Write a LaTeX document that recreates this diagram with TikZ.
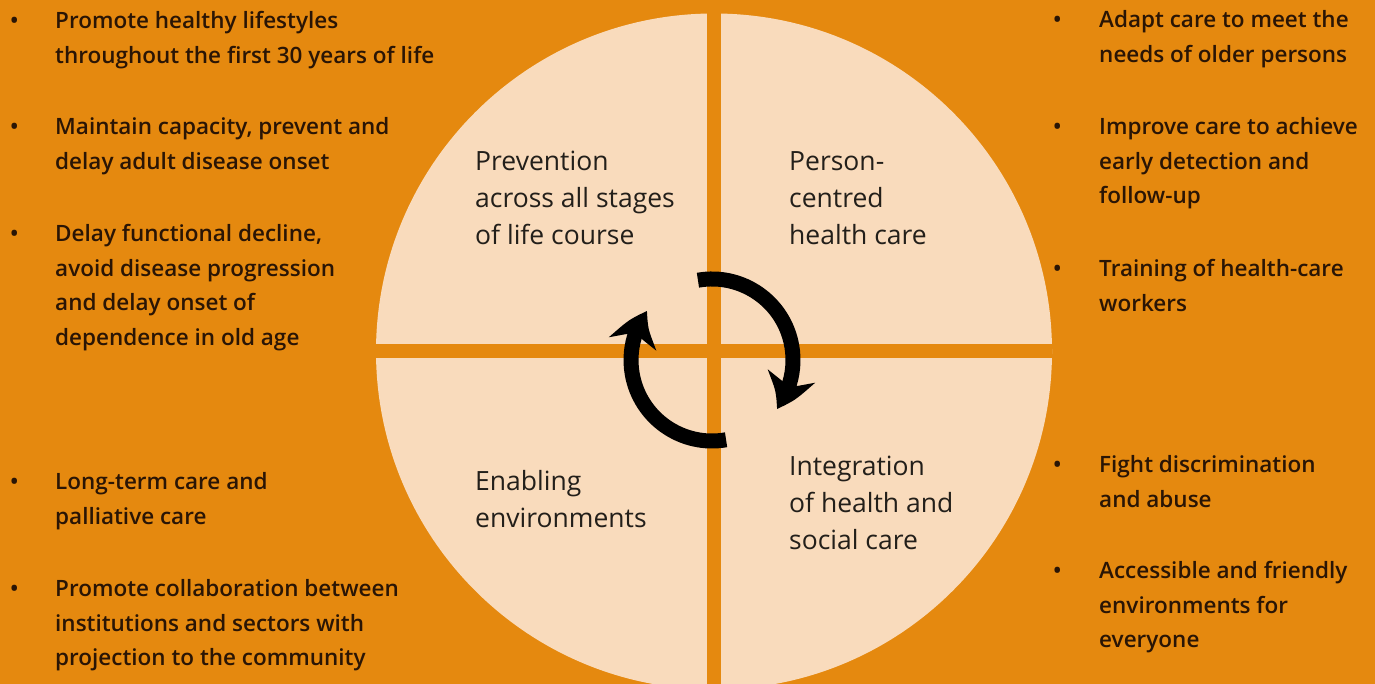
\documentclass[tikz,border=0pt]{standalone}
\usepackage{fontspec}
\setmainfont{Open Sans}
\IfFontExistsTF{Open Sans SemiBold}
  {\newfontfamily\itemfont{Open Sans SemiBold}\def\itemsize{22.5}}
  {\IfFontExistsTF{Open Sans Semibold}
    {\newfontfamily\itemfont{Open Sans Semibold}\def\itemsize{22.5}}
    {\def\itemfont{\bfseries}\def\itemsize{21.6}}}
\usetikzlibrary{positioning, arrows.meta, bending}
\definecolor{bgorange}{HTML}{E5890F}
\definecolor{wheelcream}{HTML}{F9DBBC}
\definecolor{itembrown}{HTML}{2A1505}
\definecolor{labelgrey}{HTML}{231F1A}

\begin{document}
\begin{tikzpicture}[x=1pt, y=1pt,
    itemtext/.style={anchor=base west, align=left, inner sep=0pt, text=itembrown,
      font=\fontsize{\itemsize}{34.5}\selectfont\itemfont},
    itemdot/.style={anchor=base west, inner sep=0pt, text=itembrown,
      font=\fontsize{\itemsize}{34.5}\selectfont\itemfont},
    quarter/.style={anchor=base west, align=left, inner sep=0pt, text=labelgrey,
      font=\fontsize{26.5}{37}\selectfont},
    turnarrow/.style={line width=15pt, -{Stealth[length=36pt, width=48pt, inset=11pt, bend]}}]
  \useasboundingbox (0,0) rectangle (1375,684);
  \fill[bgorange] (0,0) rectangle (1375,684);
  % Wheel split in four quarters
  \node[circle, fill=wheelcream, minimum size=676pt, inner sep=0pt] (wheel) at (714,332.5) {};
  \fill[bgorange] ([xshift=-7pt]wheel.north) rectangle ([xshift=7pt]wheel.south);
  \fill[bgorange] ([yshift=-7pt]wheel.west) rectangle ([yshift=7pt]wheel.east);
  % (multi-line nodes sit on the baseline of their last line)
  \node[quarter] (prevention) at (475,439.3) {Prevention\\across all stages\\of life course};
  \node[quarter] (person) at (789,439.3) {Person-\\centred\\health care};
  \node[quarter] (enabling) at (475,156) {Enabling\\environments};
  \node[quarter] (integration) at (789,134) {Integration\\of health and\\social care};
  % Turning arrows in the middle
  \draw[turnarrow] (712,324) ++(100:81) arc[start angle=100, end angle=-37, radius=81];
  \draw[turnarrow] (712,324) ++(-80:81) arc[start angle=-80, end angle=-217, radius=81];
  % Left column
  \foreach \y/\ylast/\txt [count=\i] in {655/620.5/{Promote healthy lifestyles\\throughout the first 30 years of life},
      549/514.5/{Maintain capacity, prevent and\\delay adult disease onset},
      442/338.5/{Delay functional decline,\\avoid disease progression\\and delay onset of\\dependence in old age},
      194/159.5/{Long-term care and\\palliative care},
      87/18/{Promote collaboration between\\institutions and sectors with\\projection to the community}} {
    \node[itemdot] (ldot\i) at (10,\y) {•};
    \node[itemtext] (litem\i) at (55,\ylast) {\txt};
  }
  % Right column
  \foreach \y/\ylast/\txt [count=\i] in {656/621.5/{Adapt care to meet the\\needs of older persons},
      549/480/{Improve care to achieve\\early detection and\\follow-up},
      407/372.5/{Training of health-care\\workers},
      211/176.5/{Fight discrimination\\and abuse},
      105/36/{Accessible and friendly\\environments for\\everyone}} {
    \node[itemdot] (rdot\i) at (1053,\y) {•};
    \node[itemtext] (ritem\i) at (1099,\ylast) {\txt};
  }
\end{tikzpicture}
\end{document}
